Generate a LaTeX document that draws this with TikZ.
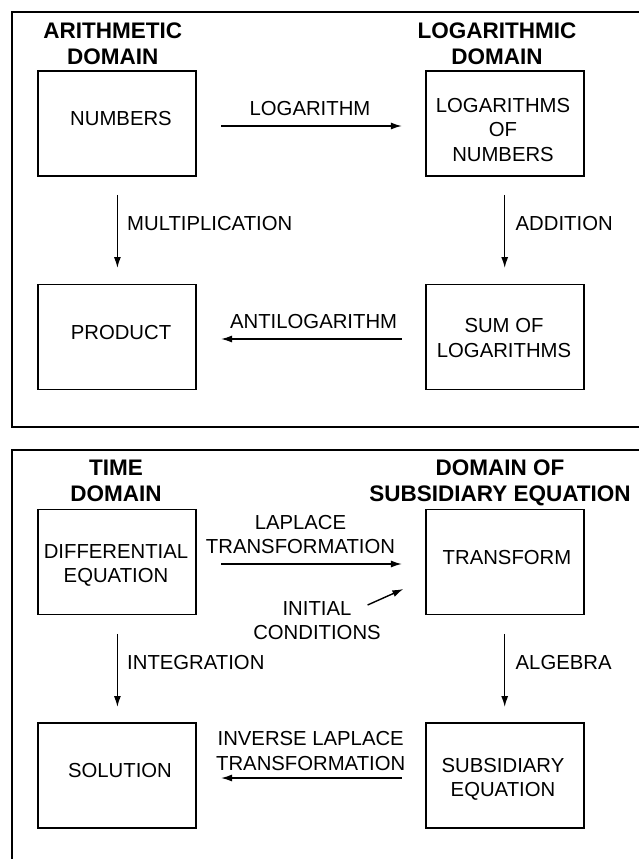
\documentclass[tikz,border=0pt]{standalone}
\usepackage{fontspec}
\setmainfont{Liberation Sans}
\usetikzlibrary{arrows.meta}
\tikzset{
  frame/.style={line width=1.9pt},
  box/.style={draw, line width=1.9pt, minimum width=157.7pt, minimum height=105pt, inner sep=0pt},
  txt/.style={font=\fontsize{20.3}{24.5}\selectfont, align=center, inner sep=0pt, text depth=0pt},
  head/.style={font=\fontsize{22.5}{26}\selectfont\bfseries, align=center, inner sep=0pt, text depth=0pt},
  conn/.style={line width=1.4pt, -{Latex[length=11pt,width=7pt]}}
}
\begin{document}
\begin{tikzpicture}[x=1pt,y=-1pt]
\useasboundingbox (0,0) rectangle (639,859);
\clip (0,0) rectangle (639,859);
% frames
\draw[frame] (660,12) -- (12.3,12) -- (12.3,426.7) -- (660,426.7);
\draw[frame] (660,450) -- (12.3,450) -- (12.3,880);

% ---------- top diagram ----------
\node[head] (h1) at (112.7,43.5) {ARITHMETIC\\DOMAIN};
\node[head] (h2) at (497,43.5) {LOGARITHMIC\\DOMAIN};

\node[box] (A) at (116.7,123.5) {};
\node[box] (B) at (504.7,123.5) {};
\node[box] (C) at (116.7,337) {};
\node[box] (D) at (504.7,337) {};

\node[txt] (At) at (121,118) {NUMBERS};
\node[txt] (Bt) at (503,129.5) {LOGARITHMS\\OF\\NUMBERS};
\node[txt] (Ct) at (121,332) {PRODUCT};
\node[txt] (Dt) at (504,338) {SUM OF\\LOGARITHMS};

\draw[conn, shorten <=24.5pt, shorten >=23pt] ([yshift=-2.5pt]A.east) -- ([yshift=-2.5pt]B.west);
\draw[conn, shorten <=23pt, shorten >=24.5pt] ([yshift=-2pt]D.west) -- ([yshift=-2pt]C.east);
\draw[conn, shorten <=18pt, shorten >=15.5pt] ([xshift=0.7pt]A.south) -- ([xshift=0.7pt]C.north);
\draw[conn, shorten <=18pt, shorten >=15.5pt] (B.south) -- (D.north);

\node[txt] (l1) at (310,108) {LOGARITHM};
\node[txt] (l2) at (313.6,321) {ANTILOGARITHM};
\node[txt, anchor=west] (l3) at (127,223) {MULTIPLICATION};
\node[txt, anchor=west] (l4) at (515.5,223) {ADDITION};

% ---------- bottom diagram ----------
\node[head] (h3) at (116,480.5) {TIME\\DOMAIN};
\node[head] (h4) at (500,480.5) {DOMAIN OF\\SUBSIDIARY EQUATION};

\node[box] (E) at (116.7,562) {};
\node[box] (F) at (504.7,562) {};
\node[box] (G) at (116.7,775.5) {};
\node[box] (H) at (504.7,775.5) {};

\node[txt] (Et) at (116,563.5) {DIFFERENTIAL\\EQUATION};
\node[txt] (Ft) at (507,557) {TRANSFORM};
\node[txt] (Gt) at (120,770) {SOLUTION};
\node[txt] (Ht) at (503,777.5) {SUBSIDIARY\\EQUATION};

\draw[conn, shorten <=24.5pt, shorten >=23pt] ([yshift=-2pt]E.east) -- ([yshift=-2pt]F.west);
\draw[conn, shorten <=23pt, shorten >=24.5pt] ([yshift=-2.5pt]H.west) -- ([yshift=-2.5pt]G.east);
\draw[conn, shorten <=18.5pt, shorten >=15pt] ([xshift=0.7pt]E.south) -- ([xshift=0.7pt]G.north);
\draw[conn, shorten <=18.5pt, shorten >=15pt] (F.south) -- (H.north);

\node[txt] (l5) at (300.5,534.5) {LAPLACE\\TRANSFORMATION};
\node[txt] (l6) at (317,620.5) {INITIAL\\CONDITIONS};
\coordinate (ic1) at (367.6,605);
\coordinate (ic2) at (403.4,589);
\draw[conn] (ic1) -- (ic2);
\node[txt, anchor=west] (l7) at (127,662) {INTEGRATION};
\node[txt, anchor=west] (l8) at (515.5,662) {ALGEBRA};
\node[txt] (l9) at (310.7,751) {INVERSE LAPLACE\\TRANSFORMATION};
\end{tikzpicture}
\end{document}
